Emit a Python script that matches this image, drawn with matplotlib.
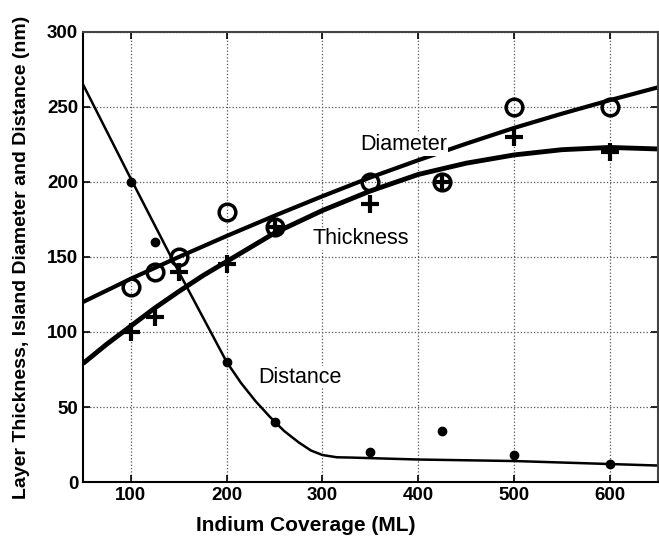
import matplotlib
matplotlib.use("Agg")
import matplotlib.pyplot as plt

plt.rcParams['font.family'] = ['Liberation Sans', 'DejaVu Sans']

# Measured points
dia_x = [100, 125, 150, 200, 250, 350, 425, 500, 600]
dia_y = [130, 140, 150, 180, 170, 200, 200, 250, 250]
thk_x = [100, 125, 150, 200, 250, 350, 425, 500, 600]
thk_y = [100, 110, 140, 145, 170, 185, 200, 230, 220]
dst_x = [100, 125, 200, 250, 350, 425, 500, 600]
dst_y = [200, 160, 80, 40, 20, 34, 18, 12]

# Fitted curves
dia_fit_x = [50, 100, 150, 200, 250, 300, 350, 400, 450, 500, 550, 600, 650]
dia_fit_y = [120, 135.5, 150, 164, 177.5, 190.5, 203, 214.5, 225.5, 236, 245.5, 254.5, 263]
thk_fit_x = [50, 75, 100, 125, 150, 175, 200, 250, 300, 350, 400, 450, 500, 550, 600, 650]
thk_fit_y = [79, 92, 104, 116, 127, 137.5, 147, 166, 181, 194, 205, 212.5, 218, 221.5, 223, 222]
dst_fit_x = [50, 100, 150, 175, 200, 215, 230, 245, 260, 275, 288, 300, 315, 330, 400, 500, 600, 650]
dst_fit_y = [265, 202, 140, 110, 80, 66, 54, 43.5, 34, 26.5, 21, 18, 16.5, 16.3, 15, 14, 12, 11]

labels = [("Diameter", 385, 225), ("Thickness", 340, 162), ("Distance", 276, 70)]

fig = plt.figure(figsize=(6.59, 5.41), dpi=100)
ax = fig.add_axes([0.126, 0.109, 0.872, 0.832])

ax.plot(dia_fit_x, dia_fit_y, color='black', lw=3.0, solid_capstyle='butt')
ax.plot(thk_fit_x, thk_fit_y, color='black', lw=3.5, solid_capstyle='butt')
ax.plot(dst_fit_x, dst_fit_y, color='black', lw=1.8)

ax.plot(dia_x, dia_y, 'o', mfc='none', mec='black', mew=2.5, ms=12, ls='none')
ax.plot(thk_x, thk_y, '+', mec='black', mew=3.0, ms=13, ls='none')
ax.plot(dst_x, dst_y, 'o', mfc='black', mec='black', ms=6, ls='none')

for txt, x, y in labels:
    ax.text(x, y, txt, fontsize=15.5, ha='center', va='center',
            bbox=dict(facecolor='white', edgecolor='none', pad=0.5))

ax.set_xlim(50, 650)
ax.set_ylim(0, 300)
ax.set_xticks([100, 200, 300, 400, 500, 600])
ax.set_yticks([0, 50, 100, 150, 200, 250, 300])
ax.grid(True, linestyle=':', color='#555555', lw=0.9)
ax.tick_params(direction='in', top=True, right=True, length=5, width=1.2,
               labelsize=13.5)
for lab in ax.get_xticklabels() + ax.get_yticklabels():
    lab.set_fontweight('bold')
for s in ax.spines.values():
    s.set_linewidth(1.5)
ax.spines['top'].set_color('#444444')
ax.spines['right'].set_color('#444444')

ax.set_xlabel('Indium Coverage (ML)', fontsize=15, fontweight='bold')
ax.xaxis.set_label_coords(0.388, -0.075)
ax.set_ylabel('Layer Thickness, Island Diameter and Distance (nm)', fontsize=14,
              fontweight='bold')
ax.yaxis.set_label_coords(-0.093, 0.5)

fig.savefig('out.png', dpi=100)
